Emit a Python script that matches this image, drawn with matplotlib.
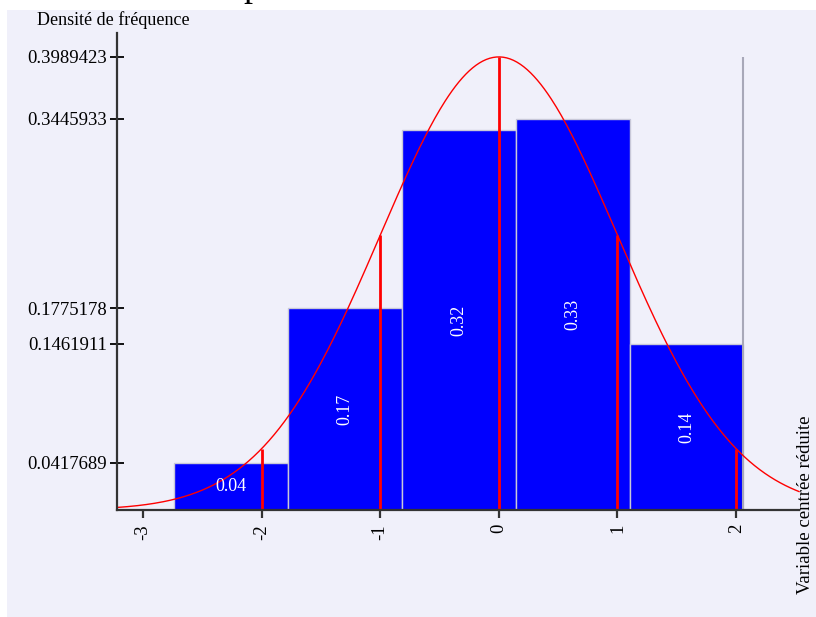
import matplotlib
matplotlib.use("Agg")
import matplotlib.pyplot as plt
from matplotlib.patches import Rectangle
import numpy as np

plt.rcParams['font.family'] = ['Liberation Serif', 'DejaVu Serif']

# histogramme (densites de frequence)
bar_left = [-2.737, -1.777, -0.818, 0.142, 1.102]
bar_width = 0.96
bar_height = [0.0417689, 0.1775178, 0.3345, 0.3445933, 0.1461911]
bar_label = ["0.04", "0.17", "0.32", "0.33", "0.14"]

ytick_vals = [0.0417689, 0.1461911, 0.1775178, 0.3445933, 0.3989423]
xtick_vals = [-3, -2, -1, 0, 1, 2]
red_x = [-2, -1, 0, 1, 2]

bg = "#f0f0fa"

fig = plt.figure(figsize=(8.16, 6.17), dpi=100)
fig.patch.set_facecolor("white")
fig.patches.append(Rectangle((7 / 816, 0), 1, (617 - 10) / 617, transform=fig.transFigure,
                             facecolor=bg, edgecolor="none", zorder=-5))
# titre coupe en haut de l'image
fig.text(243 / 816, 1.0 + 4 / 617, "p", fontsize=26, va="baseline", ha="left")

ax = fig.add_axes([117 / 816, (617 - 510) / 617, (799 - 117) / 816, (510 - 33) / 617])
ax.set_facecolor("none")
ax.set_xlim(-3.219, 2.53)
ax.set_ylim(0, 0.42)

ax.bar(bar_left, bar_height, width=bar_width, align="edge", color="#0000ff",
       edgecolor="#c8c8d8", linewidth=1, zorder=2)

for l, h, t in zip(bar_left, bar_height, bar_label):
    rot = 0 if h < 0.1 else 90
    ax.text(l + bar_width / 2, h / 2, t, color="white", fontsize=13,
            rotation=rot, ha="center", va="center", zorder=5)

# ligne grise a droite du dernier rectangle
pdf = lambda x: np.exp(-np.asarray(x) ** 2 / 2) / np.sqrt(2 * np.pi)
ax.vlines(bar_left[-1] + bar_width, 0, pdf(0), color="#a8a8b8", lw=1.5, zorder=3)

# courbe de la loi normale centree reduite
xs = np.linspace(-3.219, 2.53, 400)
ax.plot(xs, pdf(xs), color="red", lw=1, zorder=4, clip_on=False)
ax.vlines(red_x, 0, pdf(red_x), color="red", lw=2, zorder=4)

for s in ["top", "right"]:
    ax.spines[s].set_visible(False)
for s in ["left", "bottom"]:
    ax.spines[s].set_color("#333333")
    ax.spines[s].set_linewidth(1.6)
    ax.spines[s].set_zorder(6)

ax.set_yticks(ytick_vals)
ax.set_yticklabels(["%.7f" % v for v in ytick_vals], fontsize=13.5)
ax.set_xticks(xtick_vals)
ax.set_xticklabels([str(v) for v in xtick_vals], fontsize=13.5, rotation=90)
ax.tick_params(axis="y", direction="inout", length=10, width=1.3, color="black", pad=2)
ax.tick_params(axis="x", direction="out", length=6, width=1.6, color="#333333", pad=4)

fig.text(37 / 816, (617 - 20) / 617, "Densité de fréquence", fontsize=13, va="center", ha="left")
fig.text(806 / 816, (617 - 505) / 617, "Variable centrée réduite", fontsize=13.5,
         rotation=90, va="center", ha="center")

fig.savefig("out.png", dpi=100, facecolor=fig.get_facecolor())
